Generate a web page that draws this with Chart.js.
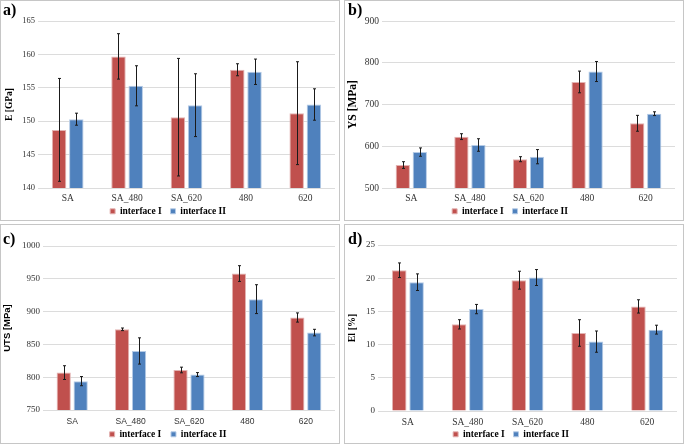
<!DOCTYPE html>
<html>
<head>
<meta charset="utf-8">
<script src="https://cdn.jsdelivr.net/npm/chart.js@4/dist/chart.umd.min.js"></script>
<style>
  html, body { margin: 0; padding: 0; background: #fff; }
  body { width: 685px; height: 445px; position: relative; overflow: hidden; }
  .panel { position: absolute; border: 1px solid #c6c6c6; box-sizing: border-box; }
  .panel canvas { position: absolute; left: 0; top: 0; }
  .tag { position: absolute; font: bold 16px "Liberation Serif", serif; line-height: 16px; color: #000; }
</style>
</head>
<body>
<div class="panel" style="left:0;top:0;width:340px;height:221px"><canvas id="cA"></canvas><span class="tag" style="left:2px;top:1px">a)</span></div>
<div class="panel" style="left:344px;top:0;width:340px;height:221px"><canvas id="cB"></canvas><span class="tag" style="left:3px;top:1px">b)</span></div>
<div class="panel" style="left:0;top:224px;width:340px;height:220px"><canvas id="cC"></canvas><span class="tag" style="left:2px;top:6px">c)</span></div>
<div class="panel" style="left:344px;top:224px;width:340px;height:220px"><canvas id="cD"></canvas><span class="tag" style="left:3px;top:6px">d)</span></div>
<script>
const categories = ["SA", "SA_480", "SA_620", "480", "620"];
const seriesNames = ["interface I", "interface II"];

// E [GPa]
const eInterface1 = [148.7, 159.7, 150.6, 157.7, 151.2];
const eInterface1Err = [7.7, 3.4, 8.8, 0.9, 7.7];
const eInterface2 = [150.3, 155.3, 152.4, 157.4, 152.5];
const eInterface2Err = [0.9, 3.0, 4.7, 1.9, 2.35];

// YS [MPa]
const ysInterface1 = [555, 623, 569, 754, 655];
const ysInterface1Err = [8, 7, 6, 26, 19];
const ysInterface2 = [586, 603, 575, 779, 678];
const ysInterface2Err = [10, 15, 17, 24, 4.5];

// UTS [MPa]
const utsInterface1 = [807, 873, 811, 958, 891];
const utsInterface1Err = [10.5, 2, 4.3, 12, 7];
const utsInterface2 = [794, 840, 804, 919, 868];
const utsInterface2Err = [7, 20, 3, 22, 5];

// El [%]
const elInterface1 = [21.2, 13.05, 19.7, 11.75, 15.75];
const elInterface1Err = [1.1, 0.7, 1.35, 2.0, 1.0];
const elInterface2 = [19.4, 15.35, 20.1, 10.45, 12.25];
const elInterface2Err = [1.25, 0.7, 1.2, 1.6, 0.67];

const RED = "#c0504d";
const BLUE = "#4f81bd";
const SERIF = "'Liberation Serif', serif";
const SANS = "'Liberation Sans', sans-serif";

const errorBars = {
  id: "errorBars",
  afterDatasetsDraw(chart) {
    const ctx = chart.ctx;
    const y = chart.scales.y;
    ctx.save();
    ctx.strokeStyle = "#1a1a1a";
    ctx.lineWidth = 1;
    chart.data.datasets.forEach((ds, i) => {
      const meta = chart.getDatasetMeta(i);
      meta.data.forEach((bar, j) => {
        const v = ds.data[j], e = ds.errors[j];
        const x = Math.round(bar.x) + 0.5;
        const top = y.getPixelForValue(v + e);
        const bot = y.getPixelForValue(v - e);
        ctx.beginPath();
        ctx.moveTo(x, top); ctx.lineTo(x, bot);
        ctx.moveTo(x - 1.5, top); ctx.lineTo(x + 1.5, top);
        ctx.moveTo(x - 1.5, bot); ctx.lineTo(x + 1.5, bot);
        ctx.stroke();
      });
    });
    ctx.restore();
  },
};

function makeChart(p) {
  const canvas = document.getElementById(p.id);
  canvas.width = p.w; canvas.height = p.h;
  canvas.style.width = p.w + "px"; canvas.style.height = p.h + "px";
  const xH = 17;
  const legendTop = p.area.bottom + xH;
  const legPad = p.legendY - legendTop - 4.75;
  const legH = p.h - legendTop;
  new Chart(canvas, {
    type: "bar",
    data: {
      labels: categories,
      datasets: [
        { label: seriesNames[0], data: p.s1, errors: p.e1, backgroundColor: RED, borderColor: "#e3b3b2", borderWidth: 1 },
        { label: seriesNames[1], data: p.s2, errors: p.e2, backgroundColor: BLUE, borderColor: "#b5cbe6", borderWidth: 1 },
      ],
    },
    options: {
      responsive: false,
      animation: false,
      events: [],
      layout: { padding: { left: 0, top: p.area.top, right: p.w - p.area.right, bottom: 0 } },
      datasets: { bar: { categoryPercentage: 0.58, barPercentage: 0.84 } },
      plugins: {
        tooltip: { enabled: false },
        legend: {
          position: "bottom",
          maxHeight: legH,
          labels: {
            boxWidth: 5, boxHeight: 5, padding: legPad, color: "#000",
            font: { family: SERIF, size: 9.5, weight: "bold" },
            generateLabels: (chart) => {
              const items = Chart.defaults.plugins.legend.labels.generateLabels(chart);
              items[0].text += "\u00a0\u00a0\u00a0";
              return items;
            },
          },
        },
      },
      scales: {
        x: {
          grid: { display: false, drawTicks: false },
          border: { display: false },
          ticks: { padding: p.xPad, color: "#333", font: { family: p.xFont || SERIF, size: p.xSize || 9.5 } },
          afterFit: (s) => { s.height = xH; },
        },
        y: {
          min: p.min, max: p.max,
          grid: { color: "#dcdcdc", drawTicks: false },
          border: { display: false },
          ticks: { stepSize: p.step, padding: 3, color: "#333", font: { family: SERIF, size: p.ySize }, callback: (v) => String(v) },
          title: { display: true, text: p.title, color: "#000", padding: { top: p.titlePad, bottom: 0 }, font: { family: p.titleFont || SERIF, size: p.titleSize, weight: "bold" } },
          afterFit: (s) => { s.width = p.area.left; },
        },
      },
    },
    plugins: [errorBars],
  });
}

makeChart({ id: "cA", w: 338, h: 219, area: { left: 37, right: 334, top: 20, bottom: 187 }, legendY: 210.3, xPad: 4.5,
  s1: eInterface1, e1: eInterface1Err, s2: eInterface2, e2: eInterface2Err, min: 140, max: 165, step: 5,
  ySize: 8.5, title: "E [GPa]", titleSize: 9.5, titlePad: 3 });
makeChart({ id: "cB", w: 338, h: 219, area: { left: 37, right: 330, top: 20, bottom: 187 }, legendY: 210.3, xPad: 4.5,
  s1: ysInterface1, e1: ysInterface1Err, s2: ysInterface2, e2: ysInterface2Err, min: 500, max: 900, step: 100,
  ySize: 9.5, title: "YS [MPa]", titleSize: 11.5, titlePad: 1 });
makeChart({ id: "cC", w: 338, h: 218, area: { left: 42, right: 334, top: 21, bottom: 185 }, legendY: 209.3, xPad: 6.5,
  s1: utsInterface1, e1: utsInterface1Err, s2: utsInterface2, e2: utsInterface2Err, min: 750, max: 1000, step: 50,
  ySize: 9, title: "UTS [MPa]", titleSize: 9.5, titleFont: SANS, titlePad: 1, xFont: SANS, xSize: 8.5 });
makeChart({ id: "cD", w: 338, h: 218, area: { left: 33, right: 332, top: 20, bottom: 186 }, legendY: 209.3, xPad: 5.5,
  s1: elInterface1, e1: elInterface1Err, s2: elInterface2, e2: elInterface2Err, min: 0, max: 25, step: 5,
  ySize: 9, title: "El [%]", titleSize: 10, titlePad: 1 });
</script>
</body>
</html>
